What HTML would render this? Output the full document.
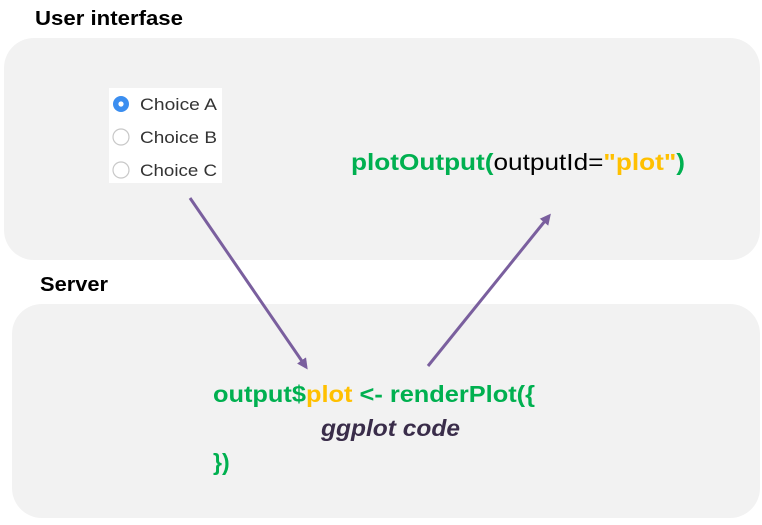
<!DOCTYPE html>
<html><head><style>body{margin:0;background:#fff}svg{display:block}</style></head><body>
<svg width="762" height="525" viewBox="0 0 762 525" xmlns="http://www.w3.org/2000/svg" font-family="'Liberation Sans', sans-serif">
<defs><marker id="ah" markerWidth="11" markerHeight="11" refX="8" refY="5.5" orient="auto" markerUnits="userSpaceOnUse"><path d="M0,0 L11,5.5 L0,11 z" fill="#7a5f9e"/></marker></defs>
<text x="35" y="25" font-size="20" font-weight="bold" fill="#000" textLength="148" lengthAdjust="spacingAndGlyphs">User interfase</text>
<rect x="4" y="38" width="756" height="222" rx="30" fill="#f2f2f2"/>
<text x="40" y="291" font-size="20" font-weight="bold" fill="#000" textLength="68" lengthAdjust="spacingAndGlyphs">Server</text>
<rect x="12" y="304" width="748" height="214" rx="30" fill="#f2f2f2"/>
<rect x="109" y="88" width="113" height="95" fill="#fff"/>
<circle cx="121" cy="104" r="8" fill="#3b8ef0"/><circle cx="121" cy="104" r="2.6" fill="#fff"/>
<circle cx="121" cy="137" r="8" fill="#fff" stroke="#c8c8c8" stroke-width="1.2"/>
<circle cx="121" cy="170" r="8" fill="#fff" stroke="#c8c8c8" stroke-width="1.2"/>
<g font-size="17" fill="#333"><text x="140" y="110" textLength="77" lengthAdjust="spacingAndGlyphs">Choice A</text><text x="140" y="143" textLength="77" lengthAdjust="spacingAndGlyphs">Choice B</text><text x="140" y="176" textLength="77" lengthAdjust="spacingAndGlyphs">Choice C</text></g>
<text x="351" y="170" font-size="23" textLength="334" lengthAdjust="spacingAndGlyphs"><tspan fill="#00b050" font-weight="bold">plotOutput(</tspan><tspan fill="#000">outputId=</tspan><tspan fill="#ffc000" font-weight="bold">"plot"</tspan><tspan fill="#00b050" font-weight="bold">)</tspan></text>
<text x="213" y="402" font-size="23" font-weight="bold" textLength="322" lengthAdjust="spacingAndGlyphs"><tspan fill="#00b050">output$</tspan><tspan fill="#ffc000">plot</tspan><tspan fill="#00b050"> &lt;- renderPlot({</tspan></text>
<text x="321" y="436" font-size="23" font-weight="bold" font-style="italic" fill="#3a2d4a" textLength="139" lengthAdjust="spacingAndGlyphs">ggplot code</text>
<text x="213" y="470" font-size="23" font-weight="bold" fill="#00b050">})</text>
<line x1="190" y1="198" x2="306" y2="367" stroke="#7a5f9e" stroke-width="3" marker-end="url(#ah)"/>
<line x1="428" y1="366" x2="549" y2="216" stroke="#7a5f9e" stroke-width="3" marker-end="url(#ah)"/>
</svg>
</body></html>
